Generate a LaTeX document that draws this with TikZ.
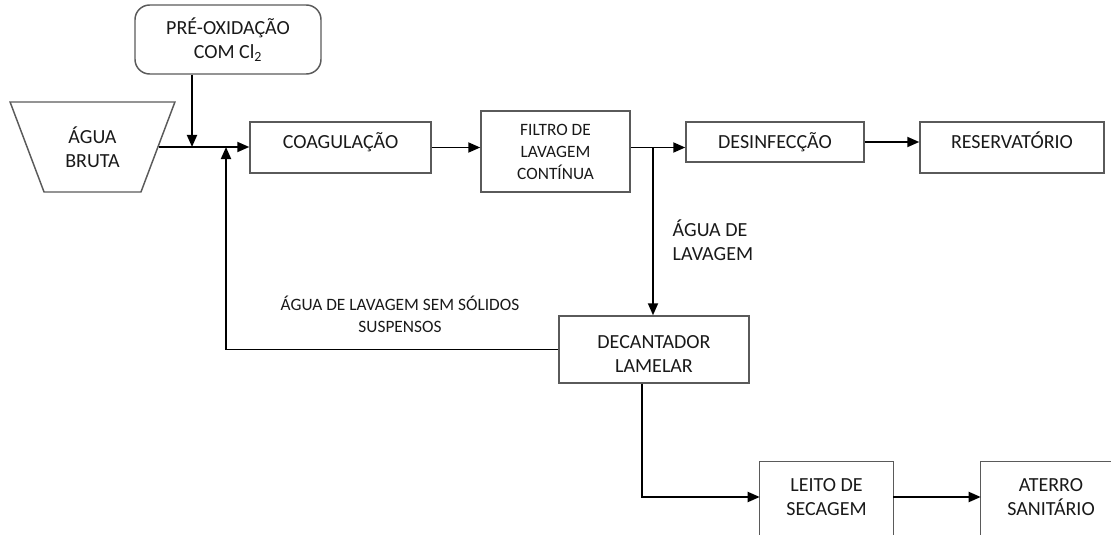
\documentclass[tikz,border=0pt]{standalone}
\usepackage{fontspec}
\setmainfont{Carlito}
\usepackage{tikz}
\usetikzlibrary{shapes.geometric, arrows.meta, positioning}
\usepackage{xcolor}
\definecolor{boxgray}{RGB}{90,90,90}

\begin{document}
\begin{tikzpicture}[
  x=0.75pt, y=-0.75pt,
  every node/.style={font=\fontsize{15}{18}\selectfont, align=center, text=black!90},
  box/.style={rectangle, draw=boxgray, line width=1.1pt},
  openbox/.style={rectangle, draw=none},
  hightext/.style={text height=8pt, text depth=6.5pt},
  smalltxt/.style={font=\fontsize{13}{16.5}\selectfont},
  boxline/.style={draw=boxgray, line width=1.1pt},
  arr/.style={draw=black, line width=1.4pt, -{Triangle[length=9pt, width=7.5pt]}},
]
  \clip (0,0) rectangle (1111,535);
  \node[box, rounded corners=11pt, minimum width=139.5pt, minimum height=51.75pt] (preox) at (228,39.5) {PRÉ-OXIDAÇÃO\\COM Cl\textsubscript{2}};
  \node[trapezium, shape border rotate=180, trapezium stretches=true, trapezium angle=66, draw=boxgray, line width=1.1pt, minimum width=123.75pt, minimum height=67.5pt] (bruta) at (92.5,147) {ÁGUA\\BRUTA};
  \node[box, hightext, minimum width=135.75pt, minimum height=38.25pt] (coag) at (340.5,147.5) {COAGULAÇÃO};
  \node[box, smalltxt, minimum width=111.75pt, minimum height=60.75pt] (filtro) at (555.5,151.5) {FILTRO DE\\LAVAGEM\\CONTÍNUA};
  \node[box, minimum width=133.5pt, minimum height=30pt] (desinf) at (775,142) {DESINFECÇÃO};
  \node[box, hightext, minimum width=138pt, minimum height=38.25pt] (reserv) at (1012,147.5) {RESERVATÓRIO};
  \node[box, minimum width=142.5pt, minimum height=50.25pt] (decant) at (654,349.5) {\rule{0pt}{17pt}DECANTADOR\\LAMELAR};
  \node[openbox, minimum width=99.75pt, minimum height=52.5pt] (leito) at (826.5,497) {LEITO DE\\SECAGEM};
  \node[openbox, minimum width=105pt, minimum height=52.5pt] (aterro) at (1051,497) {ATERRO\\SANITÁRIO};
  \draw[boxline] ([yshift=-40pt]leito.south west) -- (leito.north west) -- (leito.north east) -- ([yshift=-40pt]leito.south east);
  \draw[boxline] ([yshift=-40pt]aterro.south west) -- (aterro.north west) -- (aterro.north east) -- ([yshift=-40pt]aterro.south east);

  \node[smalltxt] (semsolidos) at (400,314) {ÁGUA DE LAVAGEM SEM SÓLIDOS\\SUSPENSOS};
  \node[anchor=west, align=left] (lavagem) at (668,240) {ÁGUA DE\\LAVAGEM};

  \coordinate (jox) at (192,147);
  \coordinate (jret) at (226,147);
  \coordinate (jfil) at (653,147);
  \coordinate (jlod) at (642,497);

  \draw[arr] (bruta.east) -- (bruta.east -| coag.west);
  \draw[arr] (preox.south -| jox) -- (jox);
  \draw[arr] (decant.west) -| (jret);
  \draw[arr] (coag.east) -- (coag.east -| filtro.west);
  \draw[arr] (filtro.east |- coag.east) -- (desinf.west |- coag.east);
  \draw[arr] (jfil) -- (jfil |- decant.north);
  \draw[arr] (desinf.east) -- (desinf.east -| reserv.west);
  \draw[arr] (decant.south -| jlod) -- (jlod) -- (jlod -| leito.west);
  \draw[arr] (leito.east |- jlod) -- (aterro.west |- jlod);
\end{tikzpicture}
\end{document}
